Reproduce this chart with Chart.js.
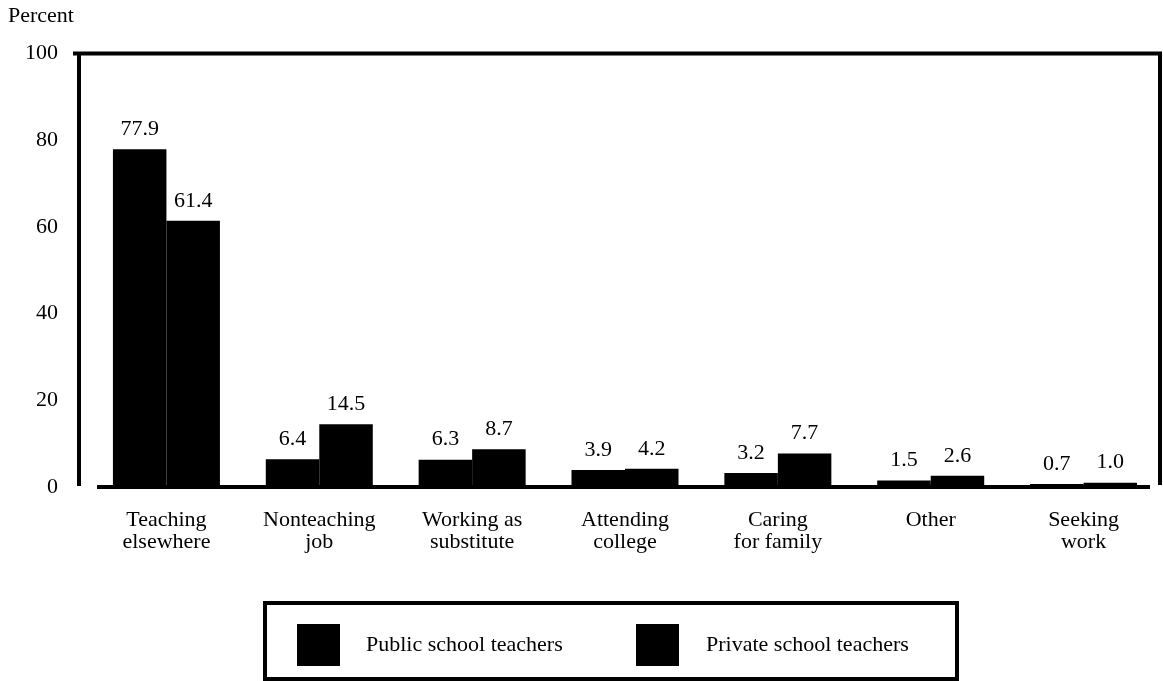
<!DOCTYPE html>
<html>
<head>
<meta charset="utf-8">
<script src="https://cdn.jsdelivr.net/npm/chart.js@4.4.0/dist/chart.umd.min.js"></script>
<style>
  html, body { margin: 0; padding: 0; background: #fff; }
  #wrap { width: 1163px; height: 681px; }
</style>
</head>
<body>
<div id="wrap"><canvas id="bar-chart"></canvas></div>
<script>
const categories = [
  ["Teaching", "elsewhere"],
  ["Nonteaching", "job"],
  ["Working as", "substitute"],
  ["Attending", "college"],
  ["Caring", "for family"],
  ["Other"],
  ["Seeking", "work"],
];
const publicTeachers = [77.9, 6.4, 6.3, 3.9, 3.2, 1.5, 0.7];
const privateTeachers = [61.4, 14.5, 8.7, 4.2, 7.7, 2.6, 1.0];
const seriesNames = ["Public school teachers", "Private school teachers"];
const yTicks = [0, 20, 40, 60, 80, 100];

const serif = "'Liberation Serif', 'Times New Roman', serif";

// thick frame: top, left and right lines plus the baseline
const framePlugin = {
  id: "frame",
  afterDatasetsDraw(chart) {
    const { ctx, chartArea: a } = chart;
    ctx.save();
    ctx.strokeStyle = "#000";
    ctx.lineWidth = 4;
    ctx.beginPath();
    ctx.moveTo(a.left - 17, a.top);
    ctx.lineTo(a.right + 2, a.top);
    ctx.moveTo(a.left - 11, a.top);
    ctx.lineTo(a.left - 11, a.bottom - 1);
    ctx.moveTo(a.right, a.top);
    ctx.lineTo(a.right, a.bottom - 2);
    ctx.moveTo(a.left + 7, a.bottom);
    ctx.lineTo(a.right - 10, a.bottom);
    ctx.stroke();
    ctx.restore();
  },
};

// value labels above each bar
const valuePlugin = {
  id: "values",
  afterDatasetsDraw(chart) {
    const { ctx } = chart;
    ctx.save();
    ctx.fillStyle = "#000";
    ctx.font = "22px " + serif;
    ctx.textAlign = "center";
    ctx.textBaseline = "bottom";
    chart.data.datasets.forEach((ds, i) => {
      chart.getDatasetMeta(i).data.forEach((bar, j) => {
        ctx.fillText(ds.data[j].toFixed(1), bar.x, bar.y - 9);
      });
    });
    ctx.restore();
  },
};

// boxed legend under the chart
const legendBoxPlugin = {
  id: "legendBox",
  afterDraw(chart) {
    const { ctx } = chart;
    const left = 265, top = 603, w = 692, h = 76;
    ctx.save();
    ctx.strokeStyle = "#000";
    ctx.lineWidth = 4;
    ctx.strokeRect(left, top, w, h);
    ctx.font = "22px " + serif;
    ctx.textBaseline = "middle";
    ctx.textAlign = "left";
    const offsets = [[32, 101], [371, 441]];
    chart.data.datasets.forEach((ds, i) => {
      ctx.fillStyle = ds.backgroundColor;
      ctx.fillRect(left + offsets[i][0], top + 21, 43, 42);
      ctx.fillStyle = "#000";
      ctx.fillText(ds.label, left + offsets[i][1], top + 42);
    });
    ctx.restore();
  },
};

new Chart(document.getElementById("bar-chart"), {
  type: "bar",
  data: {
    labels: categories,
    datasets: [
      {
        label: seriesNames[0],
        data: publicTeachers,
        backgroundColor: "#000",
      },
      {
        label: seriesNames[1],
        data: privateTeachers,
        backgroundColor: "#000",
      },
    ],
  },
  options: {
    responsive: true,
    maintainAspectRatio: false,
    animation: false,
    layout: { padding: { left: 8, right: 3, top: 0, bottom: 114 } },
    datasets: {
      bar: { categoryPercentage: 0.7, barPercentage: 1.0 },
    },
    plugins: {
      legend: { display: false },
      tooltip: { enabled: false },
      title: {
        display: true,
        text: "Percent",
        align: "start",
        color: "#000",
        font: { family: serif, size: 22, weight: "normal" },
        padding: { top: 3, bottom: 24 },
      },
    },
    scales: {
      x: {
        grid: { display: false, drawTicks: false },
        border: { display: false },
        ticks: {
          color: "#000",
          font: { family: serif, size: 22, lineHeight: 1.0 },
          padding: 22,
          maxRotation: 0,
          autoSkip: false,
        },
        afterFit(scale) {
          scale.height = 80;
        },
      },
      y: {
        min: 0,
        max: 100,
        grid: { display: false, drawTicks: false },
        border: { display: false },
        afterBuildTicks(scale) {
          scale.ticks = yTicks.map((v) => ({ value: v }));
        },
        ticks: {
          color: "#000",
          font: { family: serif, size: 22 },
          padding: 32,
        },
        afterFit(scale) {
          scale.width = 82;
        },
      },
    },
  },
  plugins: [framePlugin, valuePlugin, legendBoxPlugin],
});
</script>
</body>
</html>
